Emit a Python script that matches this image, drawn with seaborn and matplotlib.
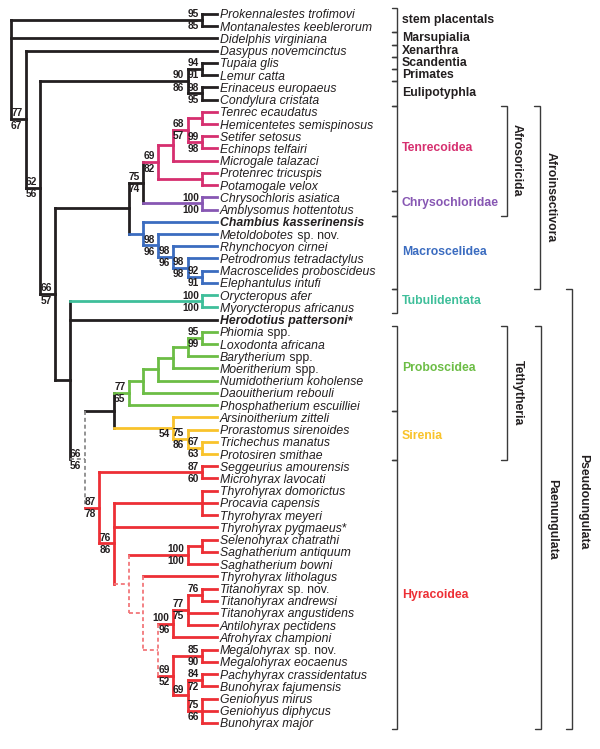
import pandas as pd
import matplotlib
matplotlib.use('Agg')
import matplotlib.pyplot as plt
import seaborn as sns

# -------------------------------------------------------
# Data: taxa (top to bottom), tree topology, support values
# -------------------------------------------------------
taxa = [
    "Prokennalestes trofimovi", "Montanalestes keeblerorum", "Didelphis virginiana",
    "Dasypus novemcinctus", "Tupaia glis", "Lemur catta", "Erinaceus europaeus",
    "Condylura cristata", "Tenrec ecaudatus", "Hemicentetes semispinosus",
    "Setifer setosus", "Echinops telfairi", "Microgale talazaci", "Protenrec tricuspis",
    "Potamogale velox", "Chrysochloris asiatica", "Amblysomus hottentotus",
    "Chambius kasserinensis", "Metoldobotes sp. nov.", "Rhynchocyon cirnei",
    "Petrodromus tetradactylus", "Macroscelides proboscideus", "Elephantulus intufi",
    "Orycteropus afer", "Myorycteropus africanus", "Herodotius pattersoni*",
    "Phiomia spp.", "Loxodonta africana", "Barytherium spp.", "Moeritherium spp.",
    "Numidotherium koholense", "Daouitherium rebouli", "Phosphatherium escuilliei",
    "Arsinoitherium zitteli", "Prorastomus sirenoides", "Trichechus manatus",
    "Protosiren smithae", "Seggeurius amourensis", "Microhyrax lavocati",
    "Thyrohyrax domorictus", "Procavia capensis", "Thyrohyrax meyeri",
    "Thyrohyrax pygmaeus*", "Selenohyrax chatrathi", "Saghatherium antiquum",
    "Saghatherium bowni", "Thyrohyrax litholagus", "Titanohyrax sp. nov.",
    "Titanohyrax andrewsi", "Titanohyrax angustidens", "Antilohyrax pectidens",
    "Afrohyrax championi", "Megalohyrax sp. nov.", "Megalohyrax eocaenus",
    "Pachyhyrax crassidentatus", "Bunohyrax fajumensis", "Geniohyus mirus",
    "Geniohyus diphycus", "Bunohyrax major",
]
bold_taxa = ["Chambius kasserinensis", "Herodotius pattersoni*"]

# internal nodes: (name, children) -- ints are taxa indices
clades = [
    ("root", ["SP", 2, "B"]), ("SP", [0, 1]), ("B", [3, "C"]), ("C", ["EU", "D"]),
    ("EU", ["TL", "EC"]), ("TL", [4, 5]), ("EC", [6, 7]),
    ("D", ["F", "E"]), ("F", ["G", "M1"]), ("G", ["T4", "CH"]),
    ("T4", ["T3", "PP"]), ("T3", ["T2", 12]), ("T2", ["TH", "SE"]),
    ("TH", [8, 9]), ("SE", [10, 11]), ("PP", [13, 14]), ("CH", [15, 16]),
    ("M1", [17, "M2"]), ("M2", [18, "M3"]), ("M3", [19, "M4"]),
    ("M4", [20, "M5"]), ("M5", [21, 22]),
    ("E", ["TU", 25, "H"]), ("TU", [23, 24]), ("H", ["TE", "HY1"]),
    ("TE", ["P1", "S1"]), ("P1", ["P2", 32]), ("P2", ["P3", 31]),
    ("P3", ["P4", 30]), ("P4", ["P5", 29]), ("P5", ["P6", 28]), ("P6", [26, 27]),
    ("S1", [33, "S2"]), ("S2", [34, "S3"]), ("S3", [35, 36]),
    ("HY1", ["SG", "HY2"]), ("SG", [37, 38]), ("HY2", ["TY", 42, "HY3"]),
    ("TY", [39, 40, 41]), ("HY3", ["SA1", "HY4"]), ("SA1", ["SA2", 45]),
    ("SA2", [43, 44]), ("HY4", [46, "HY5"]), ("HY5", ["TI1", "ME1"]),
    ("TI1", ["TI2", 51]), ("TI2", ["TI3", 49, 50]), ("TI3", [47, 48]),
    ("ME1", ["ME2", "ME3"]), ("ME2", [52, 53]), ("ME3", ["PA", "GE"]),
    ("PA", [54, 55]), ("GE", [56, 57, 58]),
]

# bootstrap support (upper, lower)
support = {
    "SP": ("95", "85"), "B": ("77", "67"), "C": ("62", "56"), "EU": ("90", "86"),
    "TL": ("94", "91"), "EC": ("98", "95"), "D": ("66", "57"), "G": ("75", "74"),
    "T4": ("69", "82"), "T2": ("68", "57"), "SE": ("99", "98"), "CH": ("100", "100"),
    "M2": ("98", "96"), "M3": ("98", "96"), "M4": ("98", "98"), "M5": ("92", "91"),
    "TU": ("100", "100"), "H": ("66", "56"), "P1": ("77", "65"), "P6": ("95", "99"),
    "S1": ("", "54"), "S2": ("75", "86"), "S3": ("67", "63"), "SG": ("87", "60"),
    "HY1": ("87", "78"), "HY2": ("76", "86"), "SA1": ("100", "100"),
    "TI1": ("100", "96"), "TI2": ("77", "75"), "TI3": ("76", ""),
    "ME1": ("69", "52"), "ME2": ("85", "90"), "ME3": ("69", ""),
    "PA": ("84", "72"), "GE": ("75", "66"),
}
dashed_nodes = ["H", "HY3", "HY4", "HY5"]

INK = '#231f20'
clade_colors = {"T4": '#d62f6f', "CH": '#8757b3', "M1": '#3b6cc0', "TU": '#3fbf9a',
                "P1": '#6cbd45', "S1": '#f9c32b', "HY1": '#ed2f35'}

# bracketed groups (first / last taxon index)
groups = ["stem placentals", "Marsupialia", "Xenarthra", "Scandentia", "Primates",
          "Eulipotyphla", "Tenrecoidea", "Chrysochloridae", "Macroscelidea",
          "Tubulidentata", "Proboscidea", "Sirenia", "Hyracoidea"]
group_first = [0, 2, 3, 4, 5, 6, 8, 15, 17, 23, 26, 33, 37]
group_last = [1, 2, 3, 4, 5, 7, 14, 16, 22, 24, 32, 36, 58]
group_colors = [INK, INK, INK, INK, INK, INK, '#d62f6f', '#8757b3', '#3b6cc0',
                '#3fbf9a', '#6cbd45', '#f9c32b', '#ed2f35']

supergroups = ["Afrosoricida", "Afroinsectivora", "Tethytheria", "Paenungulata",
               "Pseudoungulata"]
super_first = [8, 8, 26, 26, 23]
super_last = [16, 22, 36, 58, 58]

# -------------------------------------------------------
# Layout: tips at depth 14, node depth = min(children) - 1
# -------------------------------------------------------
children = dict(clades)
level, ypos, color = {}, {}, {}

def layout(n):
    if isinstance(n, int):
        level[n], ypos[n] = 14, n
        return
    for c in children[n]:
        layout(c)
    level[n] = min(level[c] for c in children[n]) - 1
    ypos[n] = (ypos[children[n][0]] + ypos[children[n][-1]]) / 2

def paint(n, inherited):
    color[n] = clade_colors.get(n, inherited)
    if not isinstance(n, int):
        for c in children[n]:
            paint(c, color[n])

layout("root")
paint("root", INK)

rows = []
seg = 0
for n, kids in clades:
    dash = n in dashed_nodes
    rows += [(seg, level[n], ypos[kids[0]], color[n], dash),
             (seg, level[n], ypos[kids[-1]], color[n], dash)]
    seg += 1
    for c in kids:
        cd = c in dashed_nodes
        rows += [(seg, level[n], ypos[c], color[c], cd),
                 (seg, level[c], ypos[c], color[c], cd)]
        seg += 1
segs = pd.DataFrame(rows, columns=['seg', 'x', 'y', 'color', 'dashed'])

# -------------------------------------------------------
# Plot
# -------------------------------------------------------
sns.set_theme(style='white')
plt.rcParams['font.family'] = ['Liberation Sans', 'DejaVu Sans']

fig = plt.figure(figsize=(6, 7.49), dpi=100)
ax = fig.add_axes([0, 0, 1, 1])

for (col, dash), part in segs.groupby(['color', 'dashed']):
    if dash:
        lc = '#8a8a8a' if col == INK else '#f2777b'
        sns.lineplot(data=part, x='x', y='y', units='seg', estimator=None, sort=False,
                     color=lc, lw=1.3, linestyle=(0, (2.2, 1.6)), ax=ax, legend=False)
    else:
        sns.lineplot(data=part, x='x', y='y', units='seg', estimator=None, sort=False,
                     color=col, lw=2.0, solid_capstyle='projecting', ax=ax, legend=False)

ax.set_xlim(-0.7476, 40.03)
ax.set_ylim(60.13, -1.145)
ax.axis('off')

# taxon names
for i, name in enumerate(taxa):
    main, suffix = name, ''
    for suf in (' sp. nov.', ' spp.', '*'):
        if name.endswith(suf):
            main, suffix = name[:-len(suf)], suf
    w = 'bold' if name in bold_taxa else 'normal'
    t = ax.text(14.2, i, main, style='italic', weight=w, fontsize=8.8,
                color=INK, va='center_baseline', ha='left')
    if suffix:
        ax.annotate(suffix, xy=(1, 0), xycoords=t, va='bottom', ha='left',
                    fontsize=8.8, weight=w, color=INK)

# support values
for n, (up, lo) in support.items():
    ax.text(level[n] - 0.22, ypos[n] - 0.47, up, fontsize=7.3, weight='bold',
            color=INK, ha='right', va='center')
    ax.text(level[n] - 0.22, ypos[n] + 0.52, lo, fontsize=7.3, weight='bold',
            color=INK, ha='right', va='center')

# brackets
tr = ax.get_yaxis_transform()
bk = '#3a3a3a'

def bracket(x, tick, y0, y1):
    ax.plot([tick, x, x, tick], [y0, y0, y1, y1], color=bk, lw=1.0,
            transform=tr, solid_joinstyle='miter')

for name, f, l, col in zip(groups, group_first, group_last, group_colors):
    bracket(0.6617, 0.6533, f - 0.5, l + 0.5)
    ax.text(0.67, (f + l) / 2, name, transform=tr, fontsize=8.8, weight='bold',
            color=col, ha='left', va='center')

super_x = [0.845, 0.90, 0.845, 0.9017, 0.9533]
label_x = [0.8617, 0.918, 0.8633, 0.92, 0.9717]
shift = [0, 0, 0, -0.7, -0.6]
for name, f, l, bx, lx, s in zip(supergroups, super_first, super_last, super_x,
                                 label_x, shift):
    bracket(bx, bx - 0.0095, f - 0.5, l + 0.5)
    ax.text(lx, (f + l) / 2 + s, name, transform=tr, fontsize=8.8, weight='bold',
            color=INK, ha='center', va='center', rotation=270)

fig.savefig('out.png', dpi=100)
